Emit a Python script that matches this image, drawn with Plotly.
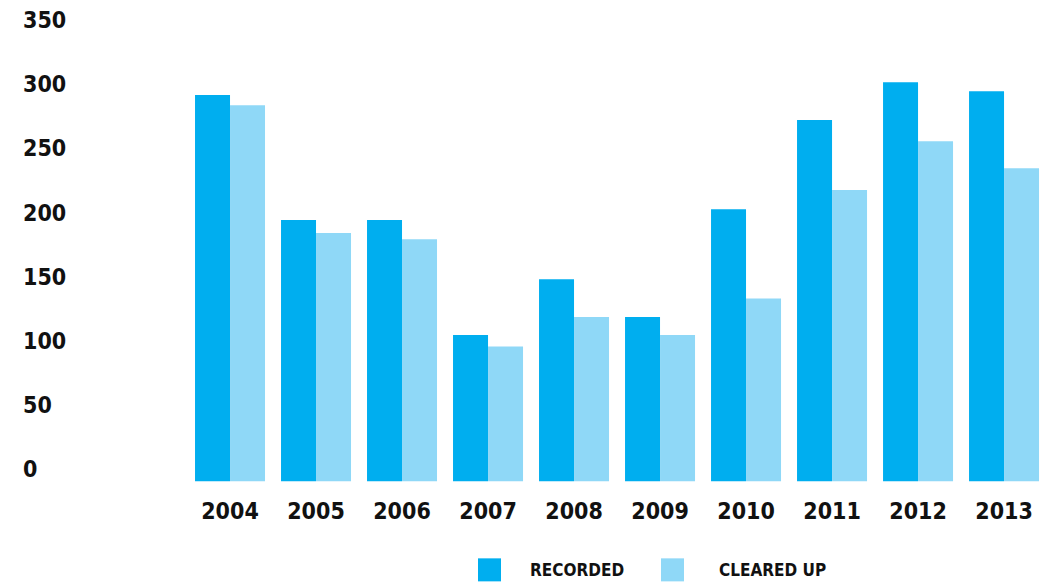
import plotly.graph_objects as go

years = ["2004", "2005", "2006", "2007", "2008", "2009", "2010", "2011", "2012", "2013"]
recorded = [301, 203.5, 203.5, 114, 157.5, 128, 212, 281.5, 311, 304]
cleared_up = [293, 193.5, 188.5, 105, 128, 114, 142.5, 227, 265, 244]
series_names = ["RECORDED", "CLEARED UP"]
colors = ["#00AEEF", "#8FD8F7"]
y_ticks = [0, 50, 100, 150, 200, 250, 300, 350]

FONT = "DejaVu Sans Condensed, Liberation Sans Narrow, sans-serif"
TXT = "#111111"
PX_PER_UNIT = 481 / 375
Y_LOW = -6
Y_HIGH = 375
PLOT_H = (Y_HIGH - Y_LOW) * PX_PER_UNIT
LABEL_SHIFT = 12 / PX_PER_UNIT  # tick labels sit ~12px above their values in the reference

fig = go.Figure()
for name, vals, col in zip(series_names, [recorded, cleared_up], colors):
    fig.add_trace(go.Bar(x=years, y=vals, name=name, marker=dict(color=col, line=dict(width=0)),
                         showlegend=False))
# invisible helper trace tying the label axis to the figure
fig.add_trace(go.Scatter(x=[years[0]], y=[100], yaxis="y2", mode="markers",
                         marker=dict(opacity=0), showlegend=False, hoverinfo="skip"))

fig.update_layout(
    width=1043, height=582,
    margin=dict(l=20, r=0, t=0, b=582 - PLOT_H),
    paper_bgcolor="white", plot_bgcolor="white",
    barmode="group", bargap=16/86, bargroupgap=0,
    font=dict(family=FONT, size=23, color=TXT, weight="bold"),
    xaxis=dict(type="category", range=[-2.442, 9.453], showgrid=False, zeroline=False,
               showline=False, ticks="", tickfont=dict(family=FONT, size=23, color=TXT, weight="bold"),
               ticklabelstandoff=6),
    yaxis=dict(range=[Y_LOW, Y_HIGH], showticklabels=False, showgrid=False, zeroline=False,
               showline=False, ticks=""),
    yaxis2=dict(overlaying="y", side="left", range=[Y_LOW - LABEL_SHIFT, Y_HIGH - LABEL_SHIFT],
                tickvals=y_ticks, showgrid=False, zeroline=False, showline=False, ticks="",
                ticklabelposition="inside",
                tickfont=dict(family=FONT, size=23, color=TXT, weight="bold")),
)

# legend drawn in paper coordinates (paper y measured from the plot-area bottom)
def py(pix):
    return (582 - (582 - PLOT_H) - pix) / PLOT_H

legend_sq = [(478, 501), (661, 684)]
legend_tx = [528, 717]
for (x0, x1), tx, name, col in zip(legend_sq, legend_tx, series_names, colors):
    fig.add_shape(type="rect", xref="paper", yref="paper",
                  x0=(x0 - 20) / 1023, x1=(x1 - 20) / 1023,
                  y0=py(581), y1=py(558),
                  fillcolor=col, line=dict(width=0))
    fig.add_annotation(xref="paper", yref="paper", x=(tx - 20) / 1023, y=py(570),
                       text=name, showarrow=False, xanchor="left", yanchor="middle",
                       font=dict(family=FONT, size=17, color=TXT, weight="bold"))

fig.write_html("out.html")
